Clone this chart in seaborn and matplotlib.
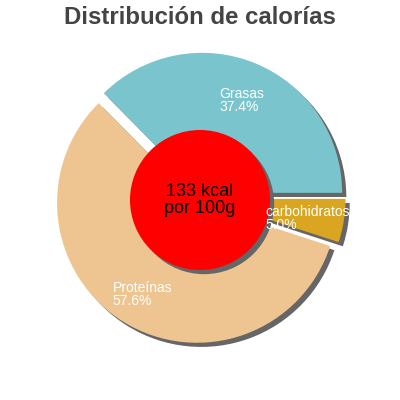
import matplotlib
matplotlib.use("Agg")
import matplotlib.pyplot as plt
import matplotlib.patches as mpatches
import seaborn as sns

# Data
categories = ["Grasas", "Proteínas", "carbohidratos"]
percentages = [37.4, 57.6, 5.0]
colors = ["#7AC5CD", "#EEC591", "#DAA520"]
title = "Distribución de calorías"
center_text = "133 kcal\npor 100g"

sns.set_theme(style="white")
plt.rcParams['font.family'] = ['Liberation Sans', 'DejaVu Sans']

fig = plt.figure(figsize=(4, 4), dpi=100)
ax = fig.add_axes([0, 0, 1, 1])
R = 140.0

labels = [f"{c}\n{p:.1f}%" for c, p in zip(categories, percentages)]
sh = 3.0 / R
wedges, texts = ax.pie(
    percentages,
    labels=labels,
    colors=colors,
    startangle=0,
    counterclock=True,
    explode=[0.04] * len(percentages),
    labeldistance=0.74,
    radius=1,
    center=(0, 0),
    shadow={'ox': sh, 'oy': -sh, 'facecolor': '#666666', 'edgecolor': 'none', 'alpha': 1},
    wedgeprops={'linewidth': 0},
    textprops={'color': 'white', 'fontsize': 10},
    frame=True,
)
ax.axis('off')
ax.set_xlim(-200 / R, 200 / R)
ax.set_ylim(-202 / R, 198 / R)
ax.set_aspect('equal')
for t in texts:
    t.set_horizontalalignment('center')
    t.set_verticalalignment('center')
    t.set_multialignment('left')
    t.set_linespacing(0.9)
    t.set_y(t.get_position()[1] - 3.5 / R)
    t.set_zorder(10)

circ = mpatches.Circle((0, -2 / R), 0.5, facecolor='red', edgecolor='none', zorder=5)
ax.add_patch(circ)
ax.add_patch(mpatches.Shadow(circ, sh, -sh, facecolor='#666666', edgecolor='none', alpha=1))

ax.text(0, -2 / R, center_text, ha='center', va='center', fontsize=13,
        color='black', linespacing=0.95, zorder=11)

fig.text(0.5, 1 - 17 / 400, title, ha='center', va='center', fontsize=17.3,
         fontweight='bold', color='#444444')

fig.savefig("out.png", dpi=100, facecolor='white')
